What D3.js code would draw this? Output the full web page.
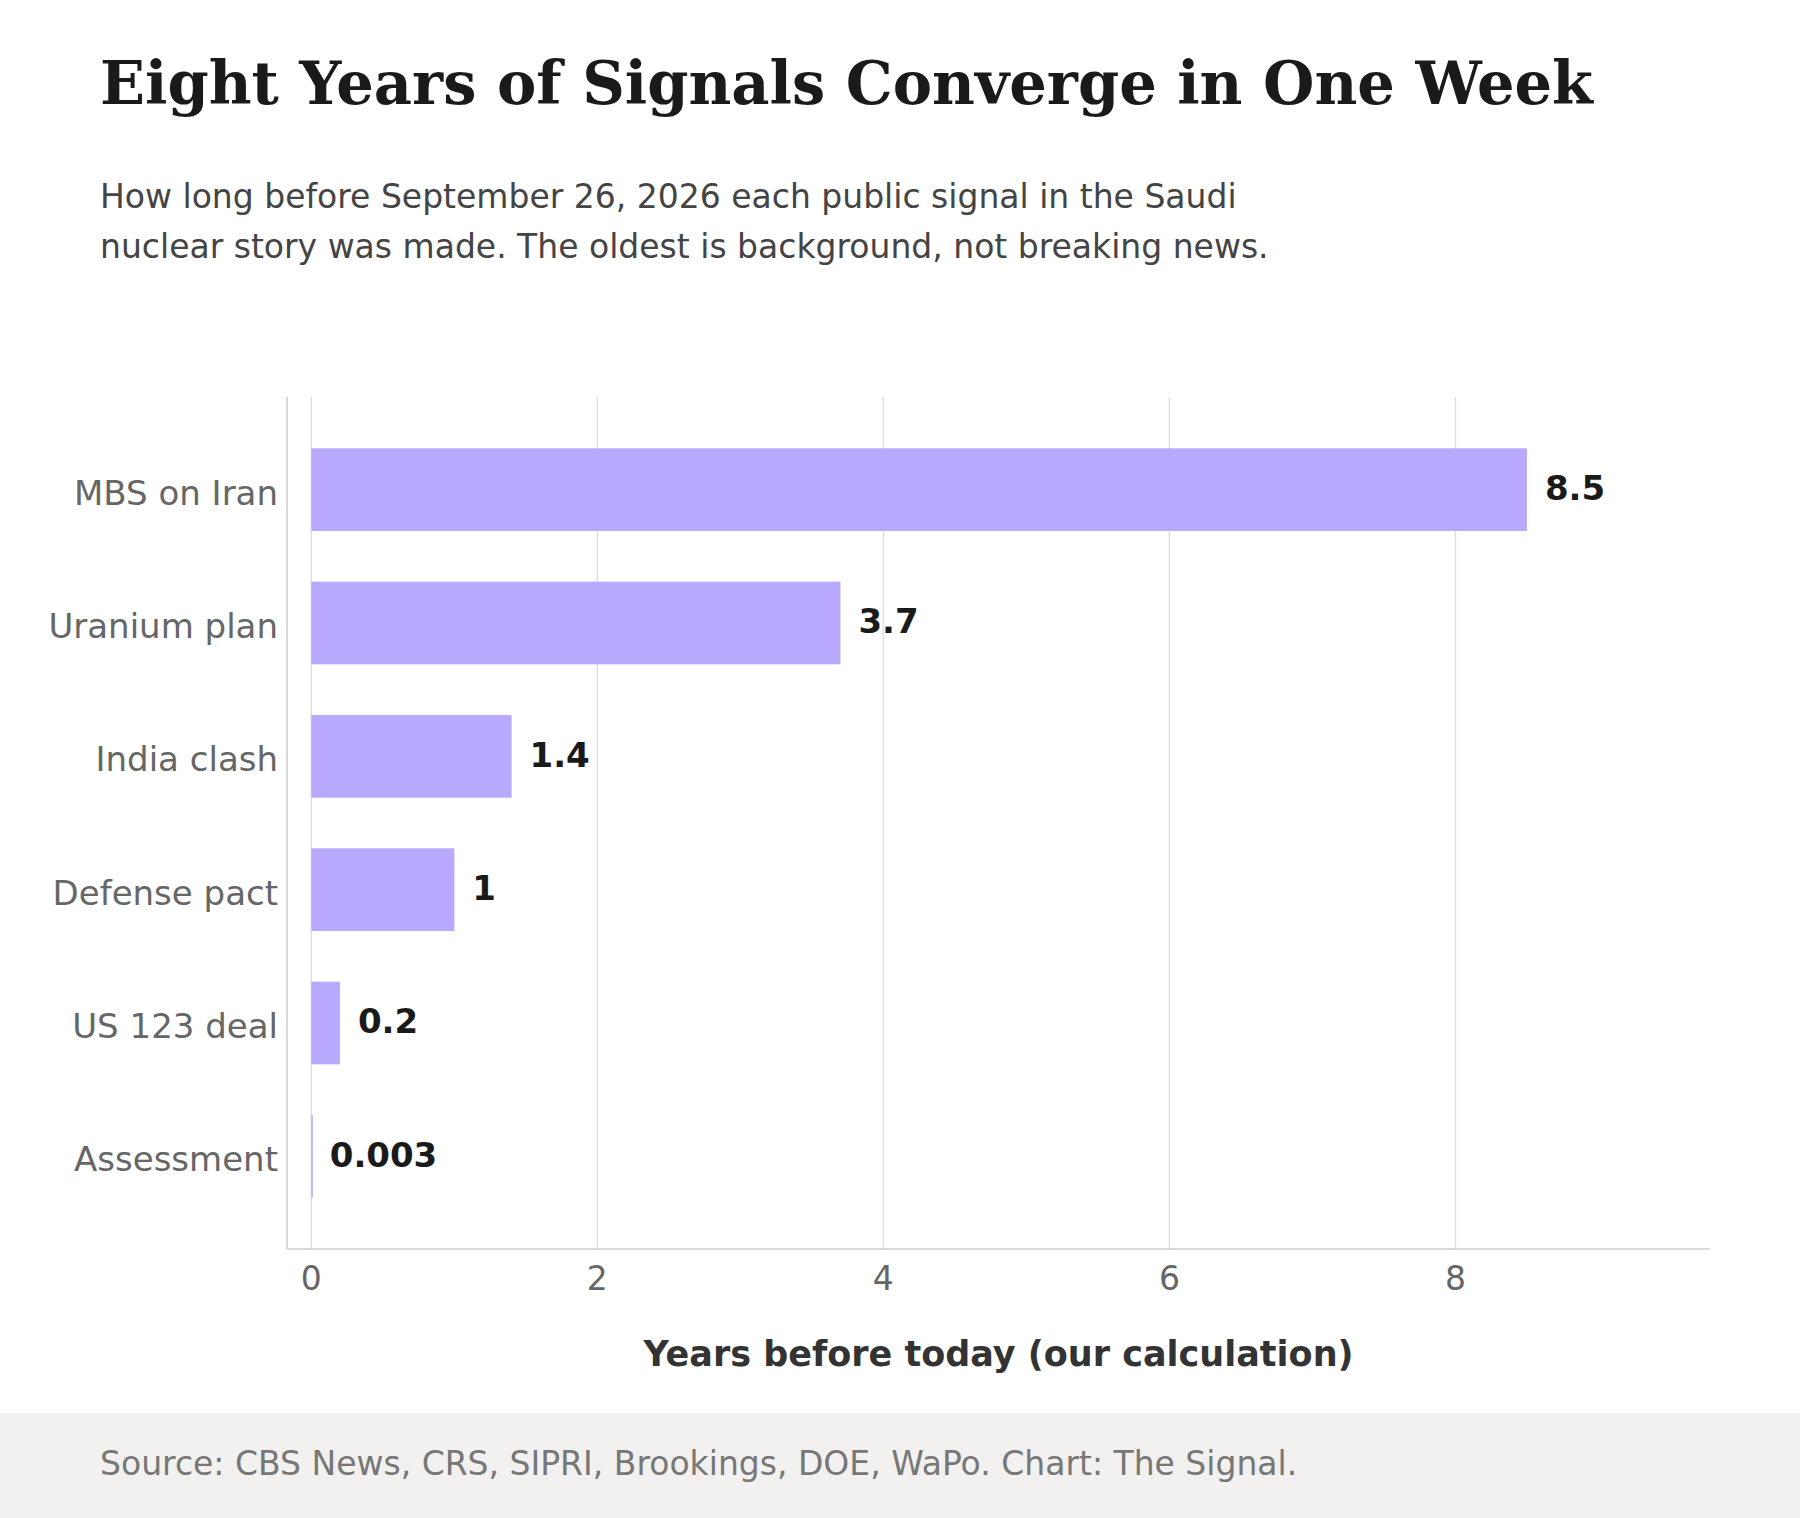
<!DOCTYPE html>
<html><head><meta charset="utf-8">
<script src="https://cdn.jsdelivr.net/npm/d3@7"></script>
<style>body{margin:0;background:#fff}</style>
</head><body>
<svg id="chart" width="1800" height="1518"></svg>
<script>
// data
var categories = ["MBS on Iran", "Uranium plan", "India clash", "Defense pact", "US 123 deal", "Assessment"];
var values = [8.5, 3.7, 1.4, 1, 0.2, 0.003];
var valueLabels = ["8.5", "3.7", "1.4", "1", "0.2", "0.003"];
var xTicks = [0, 2, 4, 6, 8];

var svg = d3.select("#chart");
var sans = "DejaVu Sans, sans-serif";

// title and subtitle
svg.append("text").attr("x", 100).attr("y", 104)
  .attr("font-family", "DejaVu Serif, serif").attr("font-weight", "bold")
  .attr("font-size", 59).attr("fill", "#1a1a1a")
  .text("Eight Years of Signals Converge in One Week");
var subtitle = ["How long before September 26, 2026 each public signal in the Saudi",
  "nuclear story was made. The oldest is background, not breaking news."];
subtitle.forEach((t, i) => {
  svg.append("text").attr("x", 100).attr("y", 208 + i * 50)
    .attr("font-family", sans).attr("font-size", 33).attr("fill", "#444").text(t);
});

// scales
var x = d3.scaleLinear().domain([-0.17, 9.78]).range([287, 1710]);
var y = d3.scaleBand().domain(categories).range([423, 1223]).paddingInner(0.38).paddingOuter(0.19);

// grid
svg.append("g").selectAll("line").data(xTicks).join("line")
  .attr("x1", d => x(d)).attr("x2", d => x(d))
  .attr("y1", 397).attr("y2", 1249)
  .attr("stroke", "#e0e0e0").attr("stroke-width", 1.5);

// spines
svg.append("line").attr("x1", 287).attr("x2", 287).attr("y1", 397).attr("y2", 1249).attr("stroke", "#ccc").attr("stroke-width", 1.5);
svg.append("line").attr("x1", 287).attr("x2", 1710).attr("y1", 1249).attr("y2", 1249).attr("stroke", "#ccc").attr("stroke-width", 1.5);

// bars
svg.append("g").selectAll("rect").data(values).join("rect")
  .attr("x", x(0))
  .attr("y", (d, i) => y(categories[i]))
  .attr("width", d => Math.max(x(d) - x(0), 1.5))
  .attr("height", y.bandwidth())
  .attr("fill", "#b8a8fe");

// value labels
svg.append("g").selectAll("text").data(values).join("text")
  .attr("x", d => x(d) + 18)
  .attr("y", (d, i) => y(categories[i]) + y.bandwidth() / 2)
  .attr("dy", "0.3em")
  .attr("font-family", sans).attr("font-weight", "bold").attr("font-size", 34).attr("fill", "#1a1a1a")
  .text((d, i) => valueLabels[i]);

// category labels
svg.append("g").selectAll("text").data(categories).join("text")
  .attr("x", 278).attr("y", d => y(d) + y.bandwidth() / 2 + 3)
  .attr("dy", "0.35em").attr("text-anchor", "end")
  .attr("font-family", sans).attr("font-size", 34).attr("fill", "#666")
  .text(d => d);

// x tick labels
svg.append("g").selectAll("text").data(xTicks).join("text")
  .attr("x", d => x(d)).attr("y", 1290).attr("text-anchor", "middle")
  .attr("font-family", sans).attr("font-size", 33).attr("fill", "#666")
  .text(d => d);

// x axis title
svg.append("text").attr("x", (287 + 1710) / 2).attr("y", 1366).attr("text-anchor", "middle")
  .attr("font-family", sans).attr("font-weight", "bold").attr("font-size", 35).attr("fill", "#333")
  .text("Years before today (our calculation)");

// footer
svg.append("rect").attr("x", 0).attr("y", 1413).attr("width", 1800).attr("height", 105).attr("fill", "#f2f1ef");
svg.append("text").attr("x", 100).attr("y", 1475)
  .attr("font-family", sans).attr("font-size", 33).attr("fill", "#777")
  .text("Source: CBS News, CRS, SIPRI, Brookings, DOE, WaPo. Chart: The Signal.");
</script>
</body></html>
